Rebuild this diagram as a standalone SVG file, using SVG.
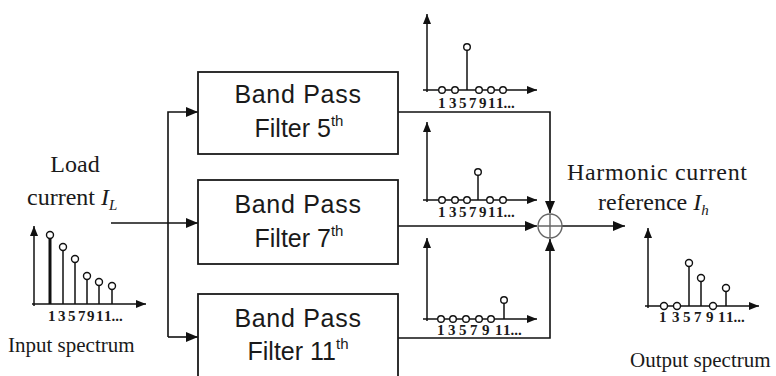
<svg xmlns="http://www.w3.org/2000/svg" width="776" height="376" viewBox="0 0 776 376">
<defs>
<style>
.box{fill:#fff;stroke:#1a1a1a;stroke-width:1.8}
.ln{fill:none;stroke:#111;stroke-width:1.6}
.ax{fill:none;stroke:#111;stroke-width:1.5}
.st{fill:none;stroke:#111;stroke-width:1.5}
.dot{fill:#fff;stroke:#111;stroke-width:1.4}
.bt{font-family:"Liberation Sans",Arial,sans-serif;font-size:25px;fill:#1a1a1a}
.sup{font-size:15px}
.sf{font-family:"Liberation Serif","Times New Roman",serif;fill:#1a1a1a}
.big{font-size:24px}
.cap{font-size:21px}
.num{font-family:"Liberation Serif","Times New Roman",serif;font-size:15px;fill:#1a1a1a;font-weight:bold}
</style>
<marker id="ar" markerUnits="userSpaceOnUse" markerWidth="12" markerHeight="10" refX="12" refY="5" orient="auto">
<path d="M0,0 L12,5 L0,10 z" fill="#111"/>
</marker>
<marker id="sa" markerUnits="userSpaceOnUse" markerWidth="10" markerHeight="8" refX="10" refY="4" orient="auto">
<path d="M0,0 L10,4 L0,8 z" fill="#111"/>
</marker>
</defs>
<rect width="776" height="376" fill="#fff"/>

<g id="connectors">
<path class="ln" d="M111,223 H198" marker-end="url(#ar)"/>
<path class="ln" d="M168,337 V112 H198" marker-end="url(#ar)"/>
<path class="ln" d="M168,337 H198" marker-end="url(#ar)"/>
<path class="ln" d="M398,112 H550 V213" marker-end="url(#ar)"/>
<path class="ln" d="M398,226 H537" marker-end="url(#ar)"/>
<path class="ln" d="M398,338 H550 V239" marker-end="url(#ar)"/>
<path class="ln" d="M562,226 H625" marker-end="url(#ar)"/>
</g>

<g id="bpf5">
<rect class="box" x="198" y="72" width="200" height="82"/>
<text class="bt" x="298" y="103" text-anchor="middle" letter-spacing="0.7">Band Pass</text>
<text class="bt" x="299" y="137" text-anchor="middle">Filter 5<tspan class="sup" dy="-11">th</tspan></text>
</g>
<g id="bpf7">
<rect class="box" x="198" y="180" width="200" height="84"/>
<text class="bt" x="298" y="213" text-anchor="middle" letter-spacing="0.7">Band Pass</text>
<text class="bt" x="299" y="247" text-anchor="middle">Filter 7<tspan class="sup" dy="-11">th</tspan></text>
</g>
<g id="bpf11">
<rect class="box" x="198" y="294" width="200" height="90"/>
<text class="bt" x="298" y="327" text-anchor="middle" letter-spacing="0.7">Band Pass</text>
<text class="bt" x="298" y="360" text-anchor="middle">Filter 11<tspan class="sup" dy="-11">th</tspan></text>
</g>

<g id="sum">
<circle cx="550" cy="226" r="12" fill="#fff" stroke="#666" stroke-width="1.4"/>
<path d="M538,226 H562 M550,214 V238" stroke="#666" stroke-width="1.4"/>
</g>

<g id="input">
<text class="sf big" x="75" y="172" text-anchor="middle">Load</text>
<text class="sf big" x="27" y="205">current <tspan font-style="italic">I</tspan><tspan font-style="italic" font-size="15" dy="5">L</tspan></text>
<path class="ax" d="M34,306 V226" marker-end="url(#sa)"/>
<path class="ax" d="M32,304 H146" marker-end="url(#sa)"/>
<path d="M50,304 V235" stroke="#111" stroke-width="3"/>
<path class="st" d="M63,304 V247 M75,304 V259 M87,304 V276 M99,304 V282 M112,304 V286"/>
<circle class="dot" cx="50" cy="235" r="3.5"/>
<circle class="dot" cx="63" cy="247" r="3.5"/>
<circle class="dot" cx="75" cy="259" r="3.5"/>
<circle class="dot" cx="87" cy="276" r="3.5"/>
<circle class="dot" cx="99" cy="282" r="3.5"/>
<circle class="dot" cx="112" cy="286" r="3.5"/>
<text class="num" x="48 58 68 78 87 96 104" y="321">1357911...</text>
<text class="sf cap" x="8" y="352">Input spectrum</text>
</g>

<g id="spec5">
<path class="ax" d="M427,92 V14" marker-end="url(#sa)"/>
<path class="ax" d="M423,90 H537" marker-end="url(#sa)"/>
<path class="st" d="M467,90 V47"/>
<circle class="dot" cx="442" cy="90" r="3.3"/>
<circle class="dot" cx="455" cy="90" r="3.3"/>
<circle class="dot" cx="467" cy="47" r="3.3"/>
<circle class="dot" cx="479" cy="90" r="3.3"/>
<circle class="dot" cx="491" cy="90" r="3.3"/>
<circle class="dot" cx="503" cy="90" r="3.3"/>
<text class="num" x="438 449 459 469 479 488 496" y="108">1357911...</text>
</g>

<g id="spec7">
<path class="ax" d="M427,202 V122" marker-end="url(#sa)"/>
<path class="ax" d="M423,200 H537" marker-end="url(#sa)"/>
<path class="st" d="M478,200 V172"/>
<circle class="dot" cx="442" cy="200" r="3.3"/>
<circle class="dot" cx="455" cy="200" r="3.3"/>
<circle class="dot" cx="467" cy="200" r="3.3"/>
<circle class="dot" cx="478" cy="172" r="3.3"/>
<circle class="dot" cx="490" cy="200" r="3.3"/>
<circle class="dot" cx="503" cy="200" r="3.3"/>
<text class="num" x="438 449 459 469 479 488 496" y="217">1357911...</text>
</g>

<g id="spec11">
<path class="ax" d="M427,321 V238" marker-end="url(#sa)"/>
<path class="ax" d="M423,319 H537" marker-end="url(#sa)"/>
<path class="st" d="M504,319 V300"/>
<circle class="dot" cx="441" cy="319" r="3.3"/>
<circle class="dot" cx="453" cy="319" r="3.3"/>
<circle class="dot" cx="466" cy="319" r="3.3"/>
<circle class="dot" cx="479" cy="319" r="3.3"/>
<circle class="dot" cx="491" cy="319" r="3.3"/>
<circle class="dot" cx="504" cy="300" r="3.3"/>
<text class="num" x="437 448 459 470 482 495 503" y="335">1357911...</text>
</g>

<g id="output">
<text class="sf big" x="567" y="180" textLength="180">Harmonic  current</text>
<text class="sf big" x="598" y="210">reference <tspan font-style="italic">I</tspan><tspan font-style="italic" font-size="15" dy="5">h</tspan></text>
<path class="ax" d="M648,308 V228" marker-end="url(#sa)"/>
<path class="ax" d="M645,306 H759" marker-end="url(#sa)"/>
<path class="st" d="M689,306 V263 M701,306 V278 M726,306 V288"/>
<circle class="dot" cx="664" cy="306" r="3.5"/>
<circle class="dot" cx="677" cy="306" r="3.5"/>
<circle class="dot" cx="689" cy="263" r="3.5"/>
<circle class="dot" cx="701" cy="278" r="3.5"/>
<circle class="dot" cx="713" cy="306" r="3.5"/>
<circle class="dot" cx="726" cy="288" r="3.5"/>
<text class="num" x="659 672 683 694 706 718 726" y="322">1357911...</text>
<text class="sf cap" x="630" y="367">Output spectrum</text>
</g>
</svg>
